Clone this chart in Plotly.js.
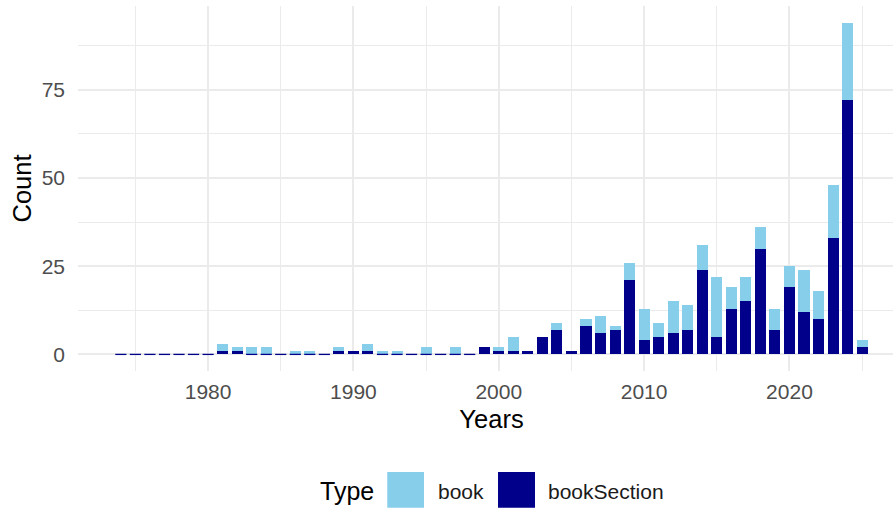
<!DOCTYPE html>
<html><head><meta charset="utf-8">
<script src="https://cdn.plot.ly/plotly-3.0.1.min.js"></script>
<style>html,body{margin:0;padding:0;overflow:hidden;background:#fff}</style>
</head><body><div id="chart" style="width:905px;height:508px"></div>
<script>
const years = [1974,1975,1976,1977,1978,1979,1980,1981,1982,1983,1984,1985,1986,1987,1988,1989,1990,
  1991,1992,1993,1994,1995,1996,1997,1998,1999,2000,2001,2002,2003,2004,2005,2006,2007,2008,2009,2010,
  2011,2012,2013,2014,2015,2016,2017,2018,2019,2020,2021,2022,2023,2024,2025];
const bookSection = [0,0,0,0,0,0,0, 1,1,0,0,0,0,0,0,1,1, 1,0,0,0,0,0,0,0,2,1, 1,1,5,7,1,8,6,7,21,4,
  5,6,7,24,5,13,15,30,7,19, 12,10,33,72,2];
const book = [0,0,0,0,0,0,0, 2,1,2,2,0,1,1,0,1,0, 2,1,1,0,2,0,2,0,0,1, 4,0,0,2,0,2,5,1,5,9,
  4,9,7,7,17,6,7,6,6,6, 12,8,15,22,2];
const typeNames = ['book', 'bookSection'];
const typeColors = ['#87CEEB', '#00008B'];
const xTickVals = [1980, 1990, 2000, 2010, 2020];
const yTickVals = [0, 25, 50, 75];
const legendTitle = 'Type';

const FONT = 'Liberation Sans, Arial, sans-serif';
const zeroYears = years.filter((y, i) => bookSection[i] === 0);

const traces = [
  {type: 'bar', x: years, y: bookSection, name: typeNames[1], marker: {color: typeColors[1]}, showlegend: false, hoverinfo: 'x+y+name'},
  {type: 'bar', x: years, y: book, name: typeNames[0], marker: {color: typeColors[0]}, showlegend: false, hoverinfo: 'x+y+name'},
  {type: 'scatter', mode: 'markers', x: zeroYears, y: zeroYears.map(() => 0), showlegend: false, hoverinfo: 'skip',
   marker: {symbol: 'line-ew', size: 8, color: typeColors[1], line: {color: typeColors[1], width: 1.3}}}
];

// plot-area pixel helpers for the custom legend
const L = 78, W = 827, T = 6, H = 365;
const px = v => (v - L) / W;
const py = v => (T + H - v) / H;

const layout = {
  width: 905, height: 508,
  margin: {l: L, r: 0, t: T, b: 508 - T - H},
  paper_bgcolor: '#fff', plot_bgcolor: '#fff',
  barmode: 'stack', bargap: 0.24,
  font: {family: FONT},
  xaxis: {
    range: [1971.05, 2027.95], tickmode: 'array', tickvals: xTickVals, ticktext: xTickVals.map(String),
    showgrid: true, gridcolor: '#EBEBEB', gridwidth: 2, zeroline: false, showline: false, ticks: '',
    ticklabelstandoff: 6,
    minor: {tickmode: 'linear', tick0: 1975, dtick: 5, showgrid: true, gridcolor: '#EBEBEB', gridwidth: 1},
    tickfont: {family: FONT, size: 21, color: '#4D4D4D'},
    title: {text: 'Years', font: {family: FONT, size: 25.5, color: '#000'}, standoff: 8}
  },
  yaxis: {
    range: [-4.7, 98.7], tickmode: 'array', tickvals: yTickVals, ticktext: yTickVals.map(String),
    showgrid: true, gridcolor: '#EBEBEB', gridwidth: 2, zeroline: false, showline: false, ticks: '',
    ticklabelstandoff: 12,
    minor: {tickmode: 'linear', tick0: 12.5, dtick: 25, showgrid: true, gridcolor: '#EBEBEB', gridwidth: 1},
    tickfont: {family: FONT, size: 21, color: '#4D4D4D'},
    title: {text: 'Count', font: {family: FONT, size: 25.5, color: '#000'}, standoff: 2}
  },
  shapes: [
    {type: 'rect', xref: 'paper', yref: 'paper', x0: px(387.3), x1: px(424), y0: py(507.7), y1: py(472),
     fillcolor: typeColors[0], line: {width: 0}},
    {type: 'rect', xref: 'paper', yref: 'paper', x0: px(498), x1: px(535), y0: py(507.7), y1: py(472),
     fillcolor: typeColors[1], line: {width: 0}}
  ],
  annotations: [
    {text: legendTitle, xref: 'paper', yref: 'paper', x: px(318), y: py(491), xanchor: 'left', yanchor: 'middle',
     showarrow: false, font: {family: FONT, size: 25, color: '#000'}},
    {text: typeNames[0], xref: 'paper', yref: 'paper', x: px(436), y: py(491), xanchor: 'left', yanchor: 'middle',
     showarrow: false, font: {family: FONT, size: 21, color: '#1A1A1A'}},
    {text: typeNames[1], xref: 'paper', yref: 'paper', x: px(546), y: py(491), xanchor: 'left', yanchor: 'middle',
     showarrow: false, font: {family: FONT, size: 21, color: '#1A1A1A'}}
  ]
};

Plotly.newPlot('chart', traces, layout, {displayModeBar: false, staticPlot: true});
</script>
</body></html>
